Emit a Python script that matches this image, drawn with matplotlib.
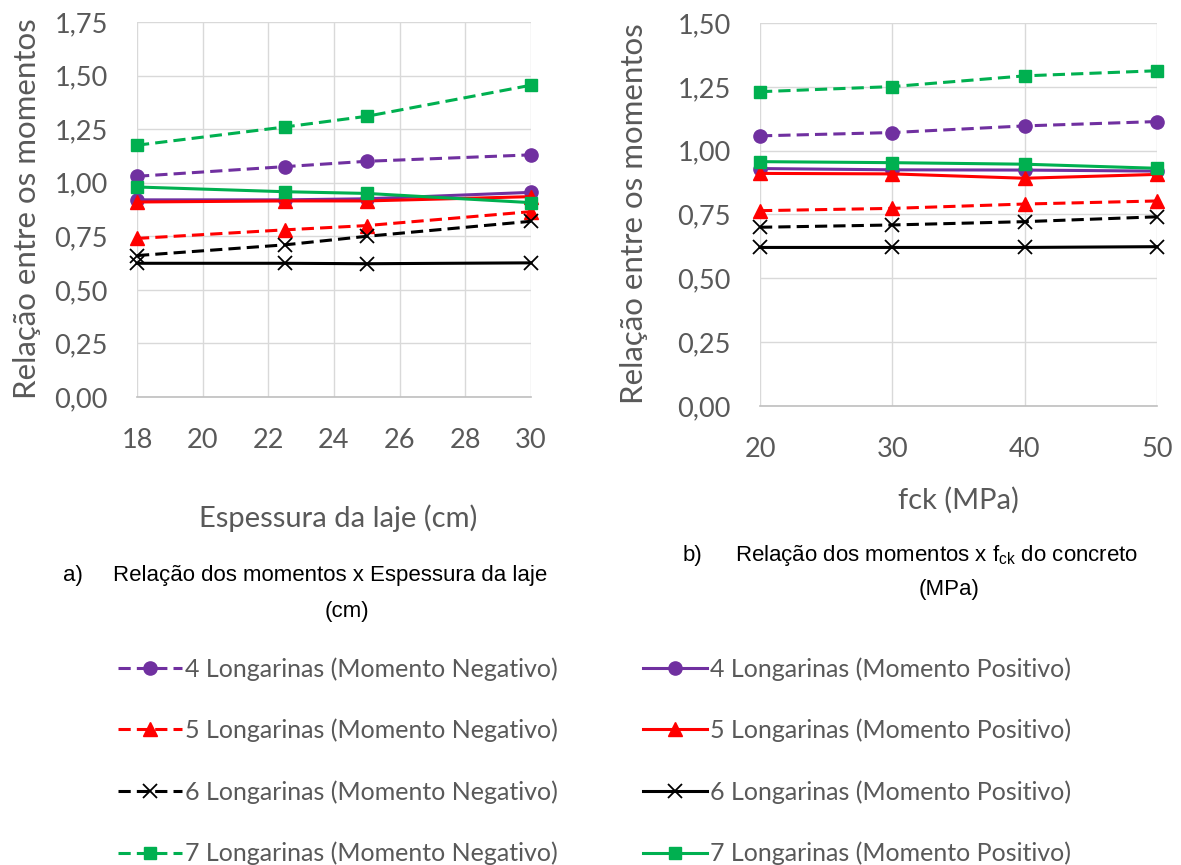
import matplotlib
matplotlib.use("Agg")
import matplotlib.pyplot as plt
from matplotlib.ticker import FuncFormatter

# ---- data -------------------------------------------------------------
espessura = [18, 22.5, 25, 30]          # cm
fck = [20, 30, 40, 50]                  # MPa

labels_neg = [
    "4 Longarinas (Momento Negativo)",
    "5 Longarinas (Momento Negativo)",
    "6 Longarinas (Momento Negativo)",
    "7 Longarinas (Momento Negativo)",
]
labels_pos = [
    "4 Longarinas (Momento Positivo)",
    "5 Longarinas (Momento Positivo)",
    "6 Longarinas (Momento Positivo)",
    "7 Longarinas (Momento Positivo)",
]

# panel a) ratio vs slab thickness
neg4_a = [1.03, 1.075, 1.10, 1.13]
neg5_a = [0.74, 0.78, 0.80, 0.865]
neg6_a = [0.66, 0.71, 0.75, 0.82]
neg7_a = [1.175, 1.26, 1.31, 1.455]
pos4_a = [0.92, 0.92, 0.925, 0.955]
pos5_a = [0.91, 0.915, 0.915, 0.935]
pos6_a = [0.624, 0.624, 0.622, 0.626]
pos7_a = [0.98, 0.958, 0.95, 0.907]

# panel b) ratio vs concrete fck
neg4_b = [1.058, 1.071, 1.097, 1.114]
neg5_b = [0.765, 0.774, 0.791, 0.803]
neg6_b = [0.70, 0.709, 0.722, 0.741]
neg7_b = [1.231, 1.251, 1.293, 1.313]
pos4_b = [0.93, 0.925, 0.924, 0.92]
pos5_b = [0.911, 0.909, 0.892, 0.907]
pos6_b = [0.621, 0.621, 0.621, 0.624]
pos7_b = [0.957, 0.953, 0.947, 0.931]

# ---- styles -----------------------------------------------------------
PURPLE, RED, BLACK, GREEN = "#7030A0", "#FF0000", "#000000", "#00B050"
GREY_TXT = "#595959"
GRID = "#D9D9D9"
DASH = (0, (4, 2))

styles = [
    dict(color=PURPLE, marker="o", ms=9.5, ls=DASH),
    dict(color=RED, marker="^", ms=9.5, ls=DASH),
    dict(color=BLACK, marker="x", ms=10, mew=1.3, ls=DASH),
    dict(color=GREEN, marker="s", ms=8.5, ls=DASH),
    dict(color=PURPLE, marker="o", ms=9.5, ls="-"),
    dict(color=RED, marker="^", ms=9.5, ls="-"),
    dict(color=BLACK, marker="x", ms=10, mew=1.3, ls="-"),
    dict(color=GREEN, marker="s", ms=8.5, ls="-"),
]

series_a = [neg4_a, neg5_a, neg6_a, neg7_a, pos4_a, pos5_a, pos6_a, pos7_a]
series_b = [neg4_b, neg5_b, neg6_b, neg7_b, pos4_b, pos5_b, pos6_b, pos7_b]

plt.rcParams["font.family"] = ["Lato", "DejaVu Sans"]
plt.rcParams["mathtext.fontset"] = "custom"
plt.rcParams["mathtext.rm"] = "Liberation Sans"

W, H = 1181, 865
fig = plt.figure(figsize=(W / 100, H / 100), dpi=100)


def px_axes(x0, y0, x1, y1):
    return fig.add_axes([x0 / W, 1 - y1 / H, (x1 - x0) / W, (y1 - y0) / H])


def fx(x):
    return x / W


def fy(y):
    return 1 - y / H


comma = FuncFormatter(lambda v, p: f"{v:.2f}".replace(".", ","))


def style_axes(ax, xticks, ymax):
    ax.set_xlim(xticks[0], xticks[-1])
    ax.set_ylim(0, ymax)
    ax.set_xticks(xticks)
    ax.set_yticks([i * 0.25 for i in range(int(round(ymax / 0.25)) + 1)])
    ax.yaxis.set_major_formatter(comma)
    ax.grid(True, color=GRID, lw=1.0)
    ax.set_axisbelow(True)
    for s in ("top", "right", "left"):
        ax.spines[s].set_visible(False)
    ax.spines["bottom"].set_color("#BFBFBF")
    ax.spines["bottom"].set_linewidth(1.2)
    ax.tick_params(length=0, labelsize=19.5, colors=GREY_TXT)
    ax.tick_params(axis="y", pad=21)
    ax.tick_params(axis="x", pad=22)


ax_a = px_axes(137, 22, 531, 397)
ax_b = px_axes(760, 23, 1157, 406)

handles = []
for ys, st in zip(series_a, styles):
    (h,) = ax_a.plot(espessura, ys, lw=2.2, clip_on=False, **st)
    handles.append(h)
for ys, st in zip(series_b, styles):
    ax_b.plot(fck, ys, lw=2.2, clip_on=False, **st)

style_axes(ax_a, [18, 20, 22, 24, 26, 28, 30], 1.75)
style_axes(ax_b, [20, 30, 40, 50], 1.50)

# y axis titles
ytitle = dict(rotation=90, ha="center", va="center", fontsize=22.5,
              color=GREY_TXT)
fig.text(fx(27), fy(209), "Relação entre os momentos", **ytitle)
fig.text(fx(634), fy(214), "Relação entre os momentos", **ytitle)

# x axis titles
fig.text(fx(338), fy(518), "Espessura da laje (cm)", ha="center",
         va="center", fontsize=21, color=GREY_TXT)
fig.text(fx(958), fy(500), "fck (MPa)", ha="center", va="center",
         fontsize=21, color=GREY_TXT)

# panel captions
cap = dict(family="Liberation Sans", fontsize=16, color="black", va="center")
fig.text(fx(63), fy(575), "a)", **cap)
fig.text(fx(113), fy(575), "Relação dos momentos x Espessura da laje", **cap)
fig.text(fx(347), fy(611), "(cm)", ha="center", **cap)
fig.text(fx(683), fy(555), "b)", **cap)
fig.text(fx(735), fy(555),
         r"Relação dos momentos x f$_{\mathrm{ck}}$ do concreto", **cap)
fig.text(fx(949), fy(590), "(MPa)", ha="center", **cap)

# legend: negative moments on the left, positive moments on the right
leg_kw = dict(loc="upper left", frameon=False, fontsize=18,
              labelcolor=GREY_TXT, handlelength=2.55, handletextpad=0.12,
              labelspacing=1.52, numpoints=1, borderpad=0, borderaxespad=0)
fig.legend(handles[:4], labels_neg, bbox_to_anchor=(fx(118), fy(657)),
           **leg_kw)
fig.legend(handles[4:], labels_pos, bbox_to_anchor=(fx(643), fy(657)),
           **leg_kw)

fig.savefig("out.png", dpi=100)
